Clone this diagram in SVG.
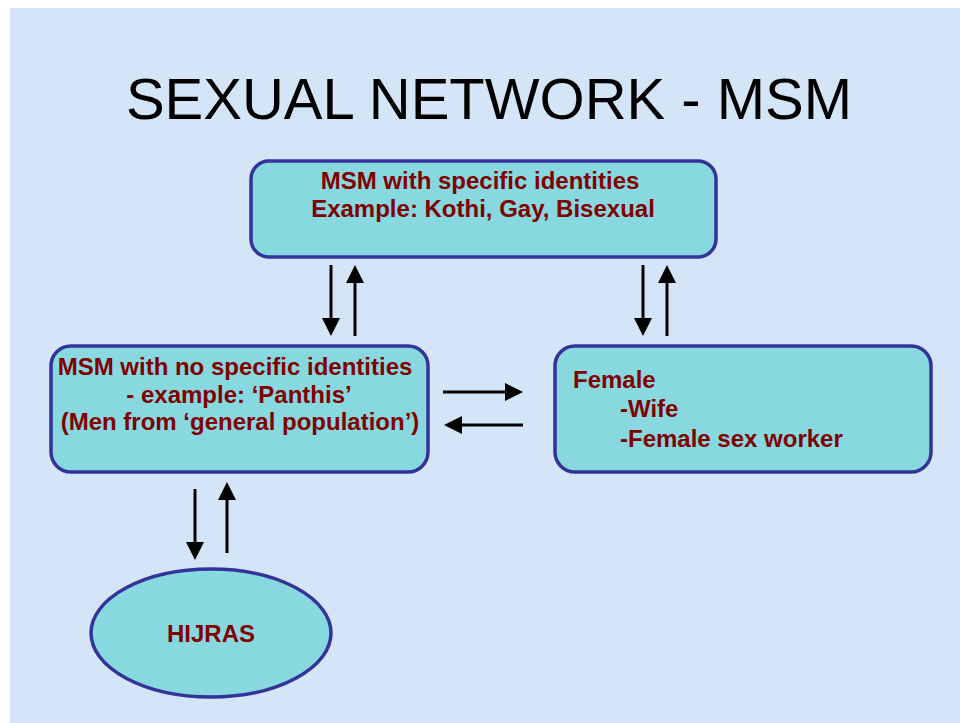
<svg xmlns="http://www.w3.org/2000/svg" width="960" height="723" viewBox="0 0 960 723">
  <style>
    .box { fill: #88d8e0; stroke: #333399; stroke-width: 3.5; }
    .lbl { font-family: "Liberation Sans", Arial, sans-serif; font-weight: bold; font-size: 24px; fill: #800000; }
    .title { font-family: "Liberation Sans", Arial, sans-serif; font-size: 58px; fill: #000000; }
    .arr { stroke: #000000; stroke-width: 3; fill: none; marker-end: url(#ah); }
  </style>
  <defs>
    <marker id="ah" markerUnits="userSpaceOnUse" markerWidth="18" markerHeight="18" viewBox="0 0 18 18" refX="14" refY="9" orient="auto">
      <path d="M0,0 L18,9 L0,18 z" fill="#000000"/>
    </marker>
  </defs>
  <rect x="0" y="0" width="960" height="723" fill="#ffffff"/>
  <rect x="10" y="8" width="950" height="715" fill="#d5e5f8"/>
  <text class="title" x="489" y="119" text-anchor="middle">SEXUAL NETWORK - MSM</text>

  <g id="msm-specific">
    <rect class="box" x="251" y="161" width="465" height="96" rx="18"/>
    <text class="lbl" x="480" y="189" text-anchor="middle">MSM with specific identities</text>
    <text class="lbl" x="483" y="217" text-anchor="middle">Example: Kothi, Gay, Bisexual</text>
  </g>

  <g id="msm-nonspecific">
    <rect class="box" x="51" y="346" width="377" height="126" rx="20"/>
    <text class="lbl" x="235" y="375" text-anchor="middle">MSM with no specific identities</text>
    <text class="lbl" x="239" y="403" text-anchor="middle">- example: ‘Panthis’</text>
    <text class="lbl" x="240" y="430" text-anchor="middle">(Men from ‘general population’)</text>
  </g>

  <g id="female">
    <rect class="box" x="555" y="346" width="376" height="126" rx="20"/>
    <text class="lbl" x="573" y="388">Female</text>
    <text class="lbl" x="620" y="417">-Wife</text>
    <text class="lbl" x="620" y="447">-Female sex worker</text>
  </g>

  <g id="hijras">
    <ellipse class="box" cx="211" cy="633" rx="120" ry="64"/>
    <text class="lbl" x="211" y="642" text-anchor="middle">HIJRAS</text>
  </g>

  <g id="connectors">
    <line class="arr" x1="331" y1="265" x2="331" y2="332"/>
    <line class="arr" x1="355" y1="336" x2="355" y2="269"/>
    <line class="arr" x1="643" y1="265" x2="643" y2="332"/>
    <line class="arr" x1="667" y1="336" x2="667" y2="269"/>
    <line class="arr" x1="443" y1="392" x2="519" y2="392"/>
    <line class="arr" x1="523" y1="425" x2="448" y2="425"/>
    <line class="arr" x1="195" y1="489" x2="195" y2="556"/>
    <line class="arr" x1="227" y1="553" x2="227" y2="486"/>
  </g>
</svg>
